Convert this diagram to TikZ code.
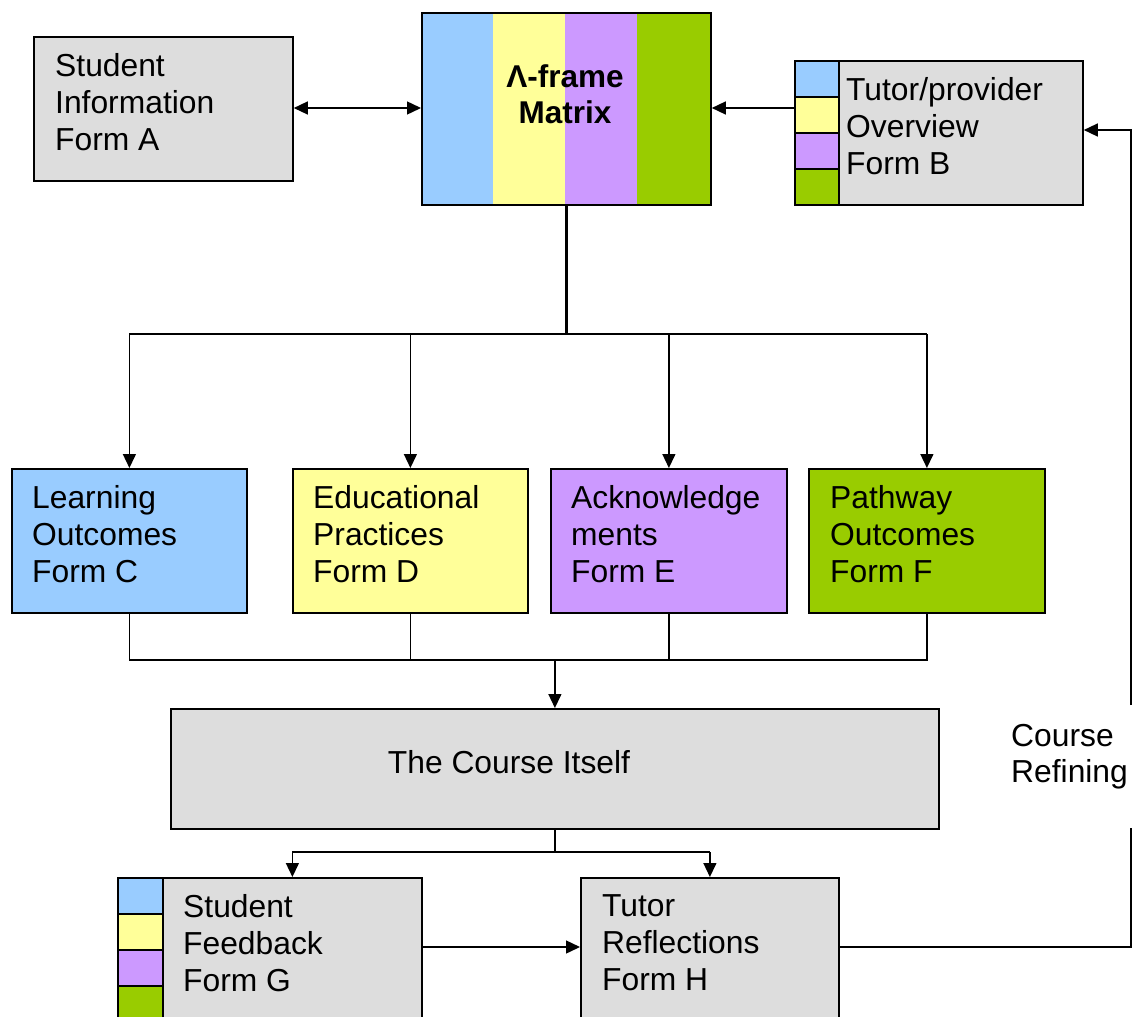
\documentclass[tikz,border=0pt]{standalone}
\usepackage{fontspec}
\setmainfont{Liberation Sans}
\usetikzlibrary{arrows.meta}
\definecolor{cblue}{HTML}{99CCFF}
\definecolor{cyellow}{HTML}{FFFF99}
\definecolor{cpurple}{HTML}{CC99FF}
\definecolor{cgreen}{HTML}{99CC00}
\definecolor{cgray}{HTML}{DDDDDD}
\tikzset{
  box/.style={draw=black, line width=1.8pt, inner sep=0pt, anchor=north west},
  strip/.style={inner sep=0pt, anchor=north west, draw=none},
  sbox/.style={draw=black, line width=1.8pt, inner sep=0pt, anchor=north west},
  txt/.style={inner sep=0pt, anchor=west, align=left, font=\fontsize{31.8}{37}\selectfont},
  conn/.style={draw=black, line width=1.4pt},
  arr/.style={conn, -{Triangle[length=14pt,width=13pt]}},
  darr/.style={conn, {Triangle[length=14pt,width=13pt]}-{Triangle[length=14pt,width=13pt]}},
}
\begin{document}
\begin{tikzpicture}[x=1pt,y=1pt]
\useasboundingbox (0,0) rectangle (1135,-1017);
\clip (0,0) rectangle (1135,-1017);
\fill[white] (0,0) rectangle (1135,-1017);

% Form A
\node[box, fill=cgray, minimum width=259pt, minimum height=144pt] (A) at (33,-36) {};
\node[txt] (At) at (55,-102) {Student\\Information\\Form A};

% Matrix
\node[strip, fill=cblue, minimum width=72pt, minimum height=192pt] (M1) at (421,-12) {};
\node[strip, fill=cyellow, minimum width=72pt, minimum height=192pt] (M2) at (493,-12) {};
\node[strip, fill=cpurple, minimum width=72pt, minimum height=192pt] (M3) at (565,-12) {};
\node[strip, fill=cgreen, minimum width=73pt, minimum height=192pt] (M4) at (637,-12) {};
\node[box, minimum width=289pt, minimum height=192pt] (M) at (421,-12) {};
\node[inner sep=0pt, align=center, font=\fontsize{31.5}{36}\selectfont\bfseries] (Mt) at (565,-94) {Λ-frame\\Matrix};

% Form B
\node[sbox, fill=cblue, minimum width=44pt, minimum height=36pt] (B1) at (794,-60) {};
\node[sbox, fill=cyellow, minimum width=44pt, minimum height=36pt] (B2) at (794,-96) {};
\node[sbox, fill=cpurple, minimum width=44pt, minimum height=36pt] (B3) at (794,-132) {};
\node[sbox, fill=cgreen, minimum width=44pt, minimum height=36pt] (B4) at (794,-168) {};
\node[box, fill=cgray, minimum width=244pt, minimum height=144pt] (B) at (838,-60) {};
\node[txt] (Bt) at (846,-126) {Tutor/provider\\Overview\\Form B};

% Forms C-F
\node[box, fill=cblue, minimum width=235pt, minimum height=144pt] (C) at (11,-468) {};
\node[txt] (Ct) at (32,-534) {Learning\\Outcomes\\Form C};
\node[box, fill=cyellow, minimum width=235pt, minimum height=144pt] (D) at (292,-468) {};
\node[txt] (Dt) at (313,-534) {Educational\\Practices\\Form D};
\node[box, fill=cpurple, minimum width=236pt, minimum height=144pt] (E) at (550,-468) {};
\node[txt] (Et) at (571,-534) {Acknowledge\\ments\\Form E};
\node[box, fill=cgreen, minimum width=236pt, minimum height=144pt] (F) at (808,-468) {};
\node[txt] (Ft) at (830,-534) {Pathway\\Outcomes\\Form F};

% Course
\node[box, fill=cgray, minimum width=768pt, minimum height=120pt] (K) at (170,-708) {};
\node[inner sep=0pt, font=\fontsize{31.8}{37}\selectfont] (Kt) at (509,-762) {The Course Itself};

% Form G
\node[sbox, fill=cblue, minimum width=45pt, minimum height=36pt] (G1) at (117,-877) {};
\node[sbox, fill=cyellow, minimum width=45pt, minimum height=36pt] (G2) at (117,-913) {};
\node[sbox, fill=cpurple, minimum width=45pt, minimum height=36pt] (G3) at (117,-949) {};
\node[sbox, fill=cgreen, minimum width=45pt, minimum height=40pt] (G4) at (117,-985) {};
\node[box, fill=cgray, minimum width=259pt, minimum height=150pt] (G) at (162,-877) {};
\node[txt] (Gt) at (183,-943) {Student\\Feedback\\Form G};

% Form H
\node[box, fill=cgray, minimum width=258pt, minimum height=150pt] (H) at (580,-877) {};
\node[txt] (Ht) at (602,-943) {Tutor\\Reflections\\Form H};

% Course Refining label
\node[txt, font=\fontsize{31.8}{36}\selectfont] (R) at (1011,-757) {Course\\Refining};

% Coordinates
\coordinate (ab) at (0,-108);
\coordinate (bt) at (0,-130);
\coordinate (split) at (0,-334);
\coordinate (join) at (0,-660);
\coordinate (fork) at (0,-852);
\coordinate (gh) at (0,-947);
\coordinate (r1) at (1131,-947);
\coordinate (r2) at (1131,-828);
\coordinate (r3) at (1131,-705);
\coordinate (r4) at (1131,-130);

% Connectors
\draw[darr] (A.east |- ab) -- (M.west |- ab);
\draw[arr] (B1.west |- ab) -- (M.east |- ab);
\draw[conn, line width=2.2pt] (M.south) -- (M.south |- split);
\draw[conn] (C.north |- split) -- (F.north |- split);
\draw[arr] (C.north |- split) -- (C.north);
\draw[arr] (D.north |- split) -- (D.north);
\draw[arr] (E.north |- split) -- (E.north);
\draw[arr] (F.north |- split) -- (F.north);
\draw[conn] (C.south) -- (C.south |- join) -- (F.south |- join) -- (F.south);
\draw[conn] (D.south) -- (D.south |- join);
\draw[conn] (E.south) -- (E.south |- join);
\draw[conn, line width=2pt] (D.south |- join) -- (E.south |- join);
\draw[arr] (K.north |- join) -- (K.north);
\draw[conn] (K.south) -- (K.south |- fork);
\draw[conn] (G.north |- fork) -- (H.north |- fork);
\draw[arr] (G.north |- fork) -- (G.north);
\draw[arr] (H.north |- fork) -- (H.north);
\draw[arr] (G.east |- gh) -- (H.west |- gh);
\draw[conn] (H.east |- gh) -- (r1) -- (r2);
\draw[arr] (r3) -- (r4) -- (B.east |- bt);
\end{tikzpicture}
\end{document}
